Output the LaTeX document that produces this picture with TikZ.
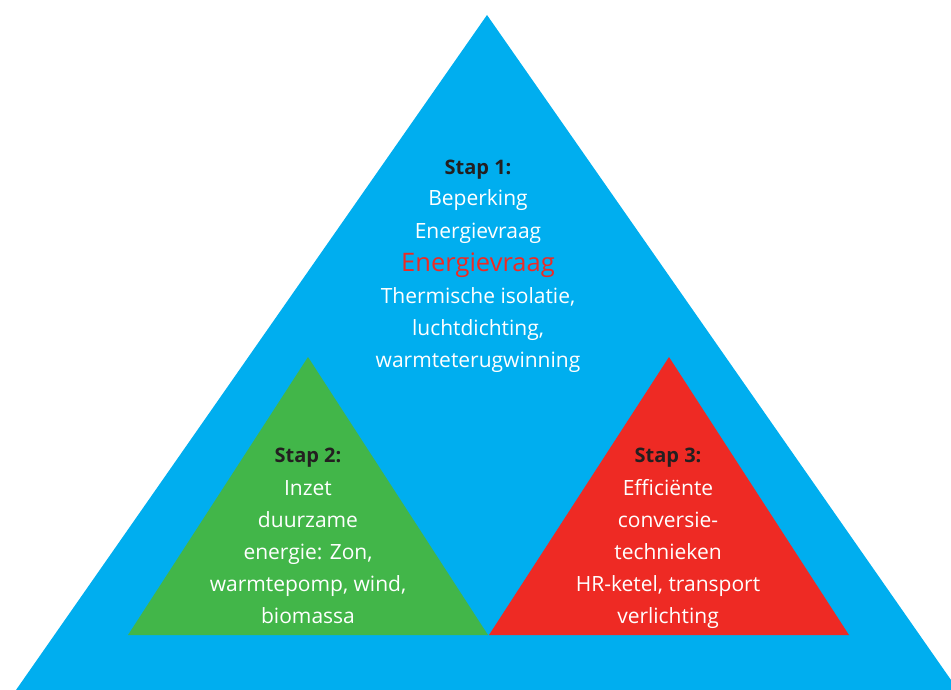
\documentclass[tikz,border=0pt]{standalone}
\usepackage{fontspec}
\setmainfont{Open Sans}
\definecolor{tblue}{HTML}{00AEEF}
\definecolor{tgreen}{HTML}{42B649}
\definecolor{tred}{HTML}{EE2A24}
\definecolor{tdark}{HTML}{231F20}
\begin{document}
\begin{tikzpicture}[x=1pt,y=-1pt,
  txt/.style={text=white,font=\fontsize{21}{32}\selectfont,align=center,inner sep=0pt,anchor=base},
  head/.style={text=tdark,font=\fontsize{20}{32}\selectfont\bfseries,inner sep=0pt,anchor=base}]
\useasboundingbox (0,0) rectangle (951,690);
\begin{scope}
\clip (0,0) rectangle (951,690);
\fill[tblue] (487,15) coordinate (btop) -- (16,690) coordinate (bleft) -- (958,690) coordinate (bright) -- cycle;
\end{scope}
\fill[tgreen] (308,357) coordinate (gtop) -- (128,635) coordinate (gleft) -- (488,635) coordinate (gright) -- cycle;
\fill[tred] (669,357) coordinate (rtop) -- (489,635) coordinate (rleft) -- (849,635) coordinate (rright) -- cycle;
% Stap 1
\node[head] (s1) at (478,175) {Stap 1:};
\node[txt] (s1a) at (478,206) {Beperking};
\node[txt] (s1b) at (478,238) {Energievraag};
\node[txt,text=tred,font=\fontsize{25.5}{32}\selectfont] (s1c) at (478,271) {Energievraag};
\node[txt] (s1d) at (478,303) {Thermische isolatie,};
\node[txt] (s1e) at (478,335) {luchtdichting,};
\node[txt] (s1f) at (478,367) {warmteterugwinning};
% Stap 2
\node[head] (s2) at (308,462) {Stap 2:};
\node[txt] (s2a) at (308,495) {Inzet};
\node[txt] (s2b) at (308,527) {duurzame};
\node[txt] (s2c) at (308,559) {energie: Zon,};
\node[txt] (s2d) at (308,591) {warmtepomp, wind,};
\node[txt] (s2e) at (308,623) {biomassa};
% Stap 3
\node[head] (s3) at (668,462) {Stap 3:};
\node[txt] (s3a) at (668,495) {Efficiënte};
\node[txt] (s3b) at (668,527) {conversie-};
\node[txt] (s3c) at (668,559) {technieken};
\node[txt] (s3d) at (668,591) {HR-ketel, transport};
\node[txt] (s3e) at (668,623) {verlichting};
\end{tikzpicture}
\end{document}
